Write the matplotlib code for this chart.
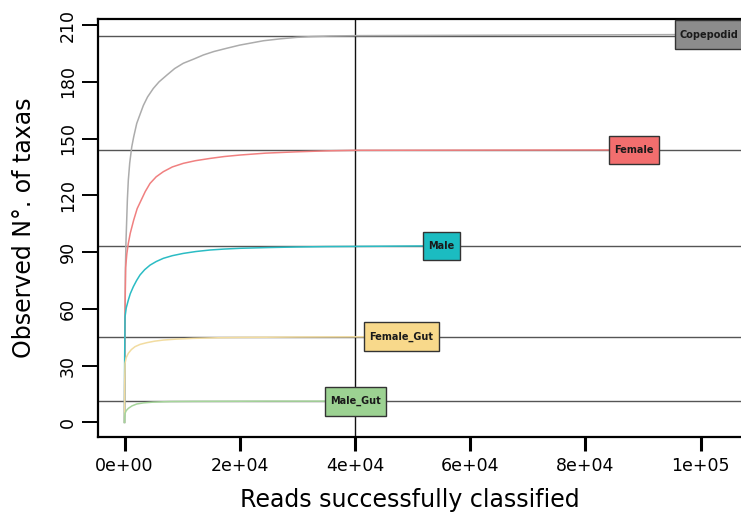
import matplotlib
matplotlib.use("Agg")
import matplotlib.pyplot as plt
from matplotlib.path import Path

plt.rcParams['font.family'] = ['DejaVu Sans']

# Rarefaction curves: reads classified vs observed number of taxa
samples = ["Copepodid", "Female", "Male", "Female_Gut", "Male_Gut"]

copepodid_x = [0, 50, 100, 150, 250, 380, 500, 660, 900, 1250, 1600, 2120, 2600,
               3270, 4000, 5000, 6000, 7330, 8700, 10200, 12000, 13700, 15500,
               17700, 20000, 24100, 27000, 29900, 32500, 35700, 40000, 101500]
copepodid_y = [0, 40, 60, 80, 95, 107, 118, 128, 137, 145.5, 151, 158, 162,
               167.5, 172, 176.5, 180, 183.5, 187, 189.8, 192, 194.2, 196,
               197.7, 199.4, 201.7, 202.7, 203.5, 203.9, 204.2, 204.4, 205]

female_x = [0, 60, 120, 200, 400, 660, 1000, 1600, 2200, 2900, 3600, 4430, 5500,
            6740, 8300, 10200, 12300, 14840, 17300, 20050, 24500, 29900, 35000,
            40000, 88400]
female_y = [0, 40, 65, 82, 89, 94.6, 100, 107, 113, 117.5, 122, 126.3, 129.8,
            132.5, 135, 136.9, 138.3, 139.5, 140.5, 141.3, 142.3, 143, 143.5,
            143.8, 144]

male_x = [0, 30, 90, 300, 660, 1000, 1530, 2100, 2690, 3500, 4430, 5500, 6740,
          8300, 10200, 12400, 14840, 17300, 20050, 25000, 30000, 35000, 40000, 54950]
male_y = [0, 35, 55.8, 60.5, 64.6, 68, 71.7, 75, 77.9, 80.7, 83.1, 85, 86.7,
          88.1, 89.3, 90.3, 91.1, 91.6, 92, 92.4, 92.7, 92.9, 93.0, 93.3]

female_gut_x = [0, 30, 90, 300, 660, 1200, 1820, 2700, 3850, 5200, 6740, 9000,
                11940, 16000, 20050, 30000, 40000, 48060]
female_gut_y = [0, 20, 31.2, 34.2, 36.5, 38.5, 40, 41.2, 42.1, 42.9, 43.5, 44,
                44.4, 44.7, 44.9, 45.1, 45.2, 45.3]

male_gut_x = [0, 30, 90, 300, 660, 1300, 2120, 3300, 5000, 8000, 11940, 25000, 40050]
male_gut_y = [0, 2.5, 4.8, 6.2, 7.4, 8.7, 9.7, 10.3, 10.7, 11.0, 11.1, 11.2, 11.2]

# richness at the common rarefaction depth
rarefied_richness = [204.4, 143.8, 93.0, 45.2, 11.2]

curve_colors = ["#acacac", "#f08080", "#2bbcc4", "#f2dca0", "#a6d59b"]
box_colors = ["#8c8c8c", "#f26e6e", "#1bbcc1", "#f8d98b", "#9cd292"]

xs = [copepodid_x, female_x, male_x, female_gut_x, male_gut_x]
ys = [copepodid_y, female_y, male_y, female_gut_y, male_gut_y]

x_ticks = [0, 20000, 40000, 60000, 80000, 100000]
x_tick_labels = ["0e+00", "2e+04", "4e+04", "6e+04", "8e+04", "1e+05"]
y_ticks = [0, 30, 60, 90, 120, 150, 180, 210]


class PadBox:
    """Rectangle around a label with separate horizontal/vertical padding."""
    def __init__(self, padx, pady):
        self.padx = padx
        self.pady = pady

    def __call__(self, x0, y0, width, height, mutation_size):
        px = self.padx * mutation_size
        py = self.pady * mutation_size
        x0, y0 = x0 - px, y0 - py
        w, h = width + 2 * px, height + 2 * py
        return Path([(x0, y0), (x0 + w, y0), (x0 + w, y0 + h), (x0, y0 + h), (x0, y0)],
                    closed=True)


W, H = 741, 521
fig = plt.figure(figsize=(W / 100, H / 100), dpi=100)
ax = fig.add_axes([98.3 / W, (H - 437.3) / H, (760 - 98.3) / W, (437.3 - 19) / H])
ax.set_xlim(-4550, 110300)
ax.set_ylim(-7.9, 213.2)

depth = min(x[-1] for x in xs)

for r in rarefied_richness:
    ax.axhline(r, color="#555555", lw=1.0, zorder=1)
ax.axvline(depth, color="#111111", lw=1.0, zorder=1)

for x, y, c in zip(xs, ys, curve_colors):
    ax.plot(x, y, color=c, lw=1.1, zorder=2, solid_joinstyle="round")

for name, x, y, bc in zip(samples, xs, ys, box_colors):
    ax.text(x[-1], y[-1], name, ha="center", va="center", fontsize=7,
            fontweight="bold", color="#1a1a1a", zorder=5, clip_on=False,
            bbox=dict(boxstyle=PadBox(0.55, 0.96), facecolor=bc,
                      edgecolor="#333333", linewidth=1.0))

for side in ["left", "top", "bottom", "right"]:
    ax.spines[side].set_linewidth(1.6)
    ax.spines[side].set_color("black")

ax.set_xticks(x_ticks)
ax.set_xticklabels(x_tick_labels)
ax.set_yticks(y_ticks)
ax.set_yticklabels([str(v) for v in y_ticks], rotation=90, va="center")
ax.tick_params(axis="x", length=10, width=2.2, labelsize=12.5, pad=4)
ax.tick_params(axis="y", length=11.5, width=1.4, labelsize=12.5, pad=4)

fig.text(410 / W, 1 - 500 / H, "Reads successfully classified", ha="center",
         va="center", fontsize=17)
fig.text(24 / W, 1 - 228 / H, "Observed N°. of taxas", ha="center", va="center",
         fontsize=17, rotation=90)

fig.savefig("out.png", dpi=100)
